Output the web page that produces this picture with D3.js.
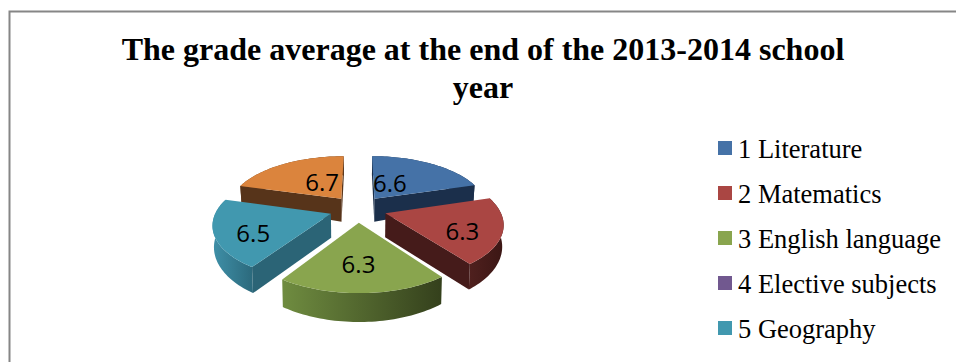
<!DOCTYPE html>
<html>
<head>
<meta charset="utf-8">
<script src="https://cdn.jsdelivr.net/npm/d3@7/dist/d3.min.js"></script>
<style>
  html, body { margin: 0; padding: 0; background: #fff; overflow: hidden; }
  svg { display: block; }
</style>
</head>
<body>
<svg id="chart" width="956" height="362"></svg>
<script>
// Chart content
const titleLines = ["The grade average at the end of the 2013-2014 school", "year"];
const legendNames = ["1 Literature", "2 Matematics", "3 English language", "4 Elective subjects", "5 Geography"];
const grades = [6.6, 6.3, 6.3, null, 6.5, 6.7];
const colours = ["#4572A7", "#AA4643", "#89A54E", "#71588F", "#4198AF", "#DB843D"];
const cutColours = ["#1B2F4B", "#451B1A", "#3C4A22", "#32274A", "#2B6476", "#57341A"];
const rimStops = [
  ["#24405F", "#1B2F4B"],
  ["#4F201E", "#3B1614"],
  ["#6F8C40", "#34401C"],
  ["#4A3A66", "#32274A"],
  ["#3F90A8", "#2C6A7D"],
  ["#7A4A24", "#57341A"]
];

// Label placement inside each wedge: radial fraction and turn from the mid angle (degrees)
const labelRadius = [0.39, 0.69, 0.62, 0, 0.70, 0.41];
const labelTurn = [-13, 8, 2, 0, -7, 9];

// Projection of the tilted, exploded pie
const centre = { x: 358, y: 209 };
const spread = { x: 114, y: 53 };
const foreshorten = 0.17;
const explode = 0.25;

function project(X, Y) {
  const s = 1 / (1 + foreshorten * Y);
  return [centre.x + spread.x * X * s, centre.y - spread.y * Y * s];
}
// Wall height shrinks towards the back and towards the sides of the pie
function dropped(X, Y) {
  const [x, y] = project(X, Y);
  return [x - 1.2 * X, y + 23.9 - 4 * Y - 2.5 * X * X];
}
function ground(mid, theta, r) {
  return [explode * Math.sin(mid) + r * Math.sin(theta), explode * Math.cos(mid) + r * Math.cos(theta)];
}

const svg = d3.select("#chart");
const defs = svg.append("defs");

// Frame
svg.append("path")
  .attr("d", "M9.5,362V11.5H956")
  .attr("fill", "none").attr("stroke", "#868686").attr("stroke-width", 2);

// Title
svg.append("text")
  .attr("font-family", "'Liberation Serif', serif")
  .attr("font-weight", "bold").attr("font-size", 32).attr("fill", "#000")
  .attr("text-anchor", "middle")
  .selectAll("tspan").data(titleLines).join("tspan")
  .attr("x", 483).attr("y", (d, i) => 60 + i * 38).text(d => d);

// Wedges
const pie = d3.pie().sort(null).value(d => d || 0);
const arcs = pie(grades).map((a, i) => ({ ...a, i })).filter(a => a.data !== null);
const line = d3.line();

function wedge(a) {
  const mid = (a.startAngle + a.endAngle) / 2;
  const thetas = d3.range(a.startAngle, a.endAngle, Math.PI / 120).concat(a.endAngle);
  const rim = thetas.map(t => ground(mid, t, 1));
  const apex = ground(mid, 0, 0);
  return { mid, rim, apex };
}

// A cut face shows only when the wedge's own top lies above its upper edge
function faceVisible(apexPt, edgePt, innerPt) {
  const ex = edgePt[0] - apexPt[0], ey = edgePt[1] - apexPt[1];
  const side = ex * (innerPt[1] - apexPt[1]) - ey * (innerPt[0] - apexPt[0]);
  return side * ex < 0;
}

// Painter's order: wedges further from the viewer first
const ordered = arcs.slice().sort((p, q) => {
  const mp = (p.startAngle + p.endAngle) / 2, mq = (q.startAngle + q.endAngle) / 2;
  return Math.cos(mq) - Math.cos(mp);
});

const g = svg.append("g");
ordered.forEach(a => {
  const { rim, apex } = wedge(a);
  const gid = "rim" + a.i;
  const xs = rim.map(p => project(p[0], p[1])[0]);
  const grad = defs.append("linearGradient").attr("id", gid)
    .attr("gradientUnits", "userSpaceOnUse")
    .attr("x1", d3.min(xs)).attr("x2", d3.max(xs)).attr("y1", 0).attr("y2", 0);
  grad.append("stop").attr("offset", 0).attr("stop-color", rimStops[a.i][0]);
  grad.append("stop").attr("offset", 1).attr("stop-color", rimStops[a.i][1]);

  // Outer wall
  const wall = rim.map(p => project(p[0], p[1])).concat(rim.slice().reverse().map(p => dropped(p[0], p[1])));
  g.append("path").attr("d", line(wall) + "Z").attr("fill", `url(#${gid})`);

  // Cut faces that turn towards the viewer
  const apexPt = project(apex[0], apex[1]);
  const middle = rim[Math.floor(rim.length / 2)];
  const innerPt = project(middle[0], middle[1]);
  [rim[0], rim[rim.length - 1]].forEach(p => {
    const edgePt = project(p[0], p[1]);
    if (!faceVisible(apexPt, edgePt, innerPt)) return;
    const face = [apexPt, edgePt, dropped(p[0], p[1]), dropped(apex[0], apex[1])];
    g.append("path").attr("d", line(face) + "Z").attr("fill", cutColours[a.i]);
  });

  // Top surface
  const top = [apex].concat(rim).map(p => project(p[0], p[1]));
  g.append("path").attr("d", line(top) + "Z").attr("fill", colours[a.i]);
});

// Value labels
svg.append("g").selectAll("text").data(arcs).join("text")
  .attr("font-family", "'Open Sans', sans-serif").attr("font-size", 24).attr("fill", "#000")
  .attr("text-anchor", "middle").attr("dominant-baseline", "central")
  .attr("transform", a => {
    const mid = (a.startAngle + a.endAngle) / 2;
    const t = mid + labelTurn[a.i] * Math.PI / 180;
    const p = ground(mid, t, labelRadius[a.i]);
    const [x, y] = project(p[0], p[1]);
    return `translate(${x},${y})`;
  })
  .text(a => a.data.toFixed(1));

// Legend
const legendY = d3.scalePoint().domain(legendNames).range([141, 321]);
const legend = svg.append("g").selectAll("g").data(legendNames).join("g")
  .attr("transform", d => `translate(718,${legendY(d)})`);
legend.append("rect").attr("width", 14).attr("height", 14)
  .attr("fill", (d, i) => colours[i]);
legend.append("text")
  .attr("x", 20).attr("y", 17)
  .attr("font-family", "'Liberation Serif', serif").attr("font-size", 26.5).attr("fill", "#000")
  .text(d => d);
</script>
</body>
</html>
